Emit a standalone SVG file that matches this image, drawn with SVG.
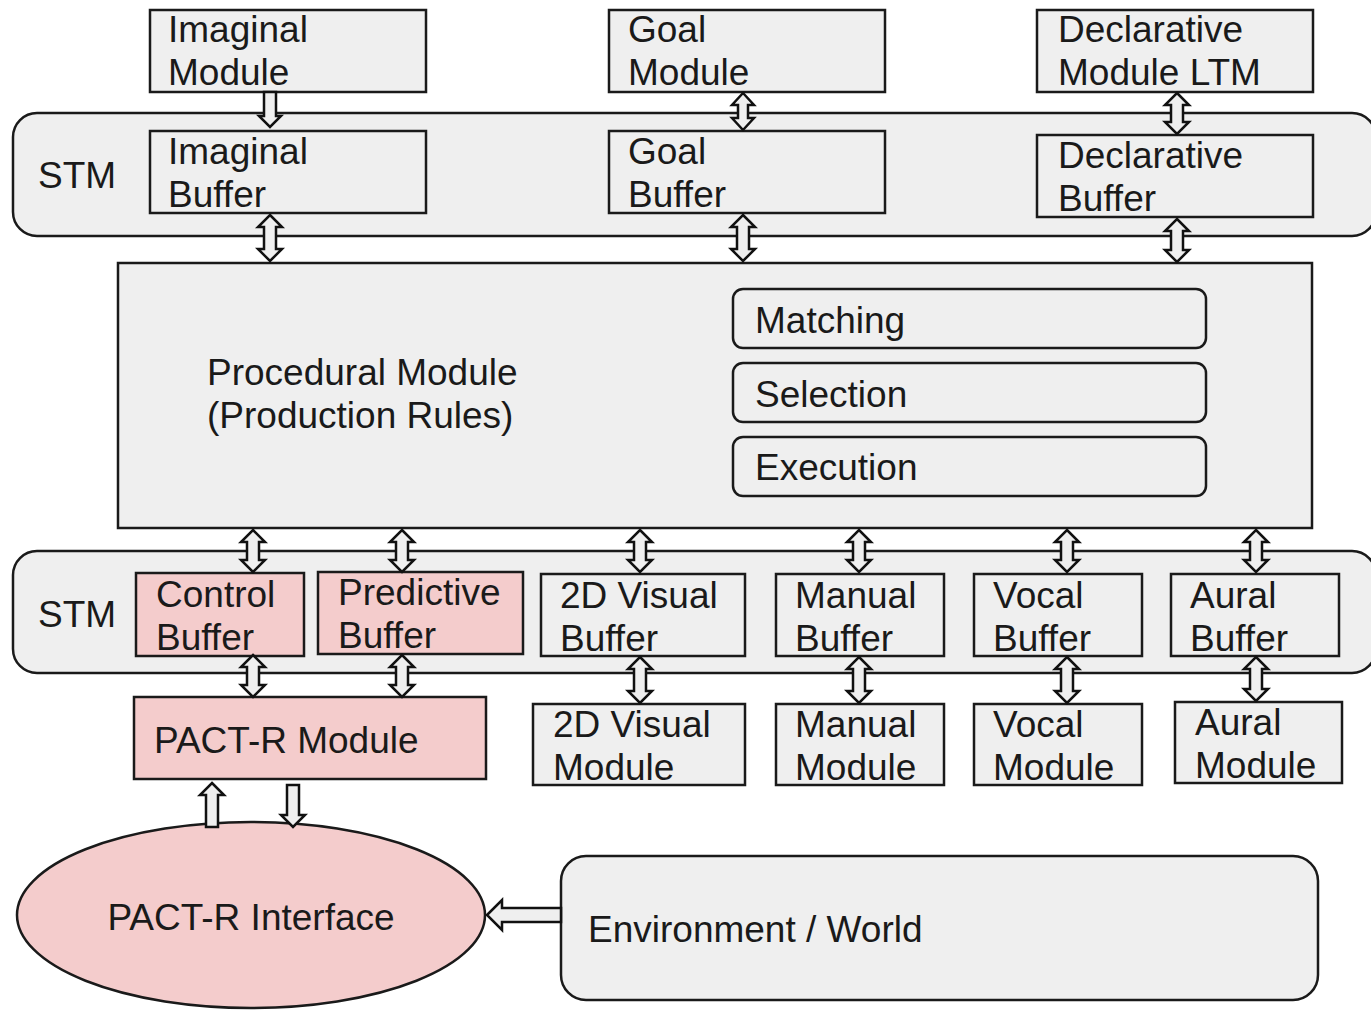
<svg xmlns="http://www.w3.org/2000/svg" width="1371" height="1010" viewBox="0 0 1371 1010">
<style>
.box{fill:#efefef;stroke:#1a1a1a;stroke-width:2.5}
.pink{fill:#f4cccc;stroke:#1a1a1a;stroke-width:2.5}
.arr{fill:#efefef;stroke:#111;stroke-width:2.5;stroke-linejoin:miter}
text{font-family:"Liberation Sans",Arial,sans-serif;font-size:37px;fill:#1a1a1a}
</style>
<rect width="1371" height="1010" fill="#ffffff"/>
<g id="stm-top"><rect class="box" x="13" y="113" width="1363" height="123" rx="24"/><text x="38" y="188">STM</text></g>
<g id="stm-bottom"><rect class="box" x="13" y="551" width="1363" height="122" rx="24"/><text x="38" y="627">STM</text></g>
<g id="imaginal-module"><rect class="box" x="150" y="10" width="276" height="82"/><text x="168" y="42">Imaginal</text><text x="168" y="85">Module</text></g>
<g id="goal-module"><rect class="box" x="609" y="10" width="276" height="82"/><text x="628" y="42">Goal</text><text x="628" y="85">Module</text></g>
<g id="declarative-module"><rect class="box" x="1037" y="10" width="276" height="82"/><text x="1058" y="42">Declarative</text><text x="1058" y="85">Module LTM</text></g>
<g id="imaginal-buffer"><rect class="box" x="150" y="131" width="276" height="82"/><text x="168" y="164">Imaginal</text><text x="168" y="207">Buffer</text></g>
<g id="goal-buffer"><rect class="box" x="609" y="131" width="276" height="82"/><text x="628" y="164">Goal</text><text x="628" y="207">Buffer</text></g>
<g id="declarative-buffer"><rect class="box" x="1037" y="135" width="276" height="82"/><text x="1058" y="168">Declarative</text><text x="1058" y="211">Buffer</text></g>
<g id="procedural-module"><rect class="box" x="118" y="263" width="1194" height="265"/><text x="207" y="385">Procedural Module</text><text x="207" y="428">(Production Rules)</text></g>
<g id="matching"><rect class="box" x="733" y="289" width="473" height="59" rx="10"/><text x="755" y="333">Matching</text></g>
<g id="selection"><rect class="box" x="733" y="363" width="473" height="59" rx="10"/><text x="755" y="407">Selection</text></g>
<g id="execution"><rect class="box" x="733" y="437" width="473" height="59" rx="10"/><text x="755" y="480">Execution</text></g>
<g id="control-buffer"><rect class="pink" x="136" y="573" width="168" height="83"/><text x="156" y="607">Control</text><text x="156" y="650">Buffer</text></g>
<g id="predictive-buffer"><rect class="pink" x="318" y="572" width="205" height="82"/><text x="338" y="605">Predictive</text><text x="338" y="648">Buffer</text></g>
<g id="visual-buffer"><rect class="box" x="541" y="574" width="204" height="82"/><text x="560" y="608">2D Visual</text><text x="560" y="651">Buffer</text></g>
<g id="manual-buffer"><rect class="box" x="776" y="574" width="168" height="82"/><text x="795" y="608">Manual</text><text x="795" y="651">Buffer</text></g>
<g id="vocal-buffer"><rect class="box" x="974" y="574" width="168" height="82"/><text x="993" y="608">Vocal</text><text x="993" y="651">Buffer</text></g>
<g id="aural-buffer"><rect class="box" x="1171" y="574" width="168" height="82"/><text x="1190" y="608">Aural</text><text x="1190" y="651">Buffer</text></g>
<g id="pactr-module"><rect class="pink" x="134" y="697" width="352" height="82"/><text x="154" y="753">PACT-R Module</text></g>
<g id="visual-module"><rect class="box" x="533" y="704" width="212" height="81"/><text x="553" y="737">2D Visual</text><text x="553" y="780">Module</text></g>
<g id="manual-module"><rect class="box" x="776" y="704" width="168" height="81"/><text x="795" y="737">Manual</text><text x="795" y="780">Module</text></g>
<g id="vocal-module"><rect class="box" x="974" y="704" width="168" height="81"/><text x="993" y="737">Vocal</text><text x="993" y="780">Module</text></g>
<g id="aural-module"><rect class="box" x="1175" y="702" width="167" height="81"/><text x="1195" y="735">Aural</text><text x="1195" y="778">Module</text></g>
<g id="pactr-interface"><ellipse class="pink" cx="251" cy="915" rx="234" ry="93"/><text x="251" y="930" text-anchor="middle">PACT-R Interface</text></g>
<g id="environment"><rect class="box" x="561" y="856" width="757" height="144" rx="25"/><text x="588" y="942">Environment / World</text></g>
<g id="connectors">
<path class="arr" d="M264,92 L276,92 L276,116 L281,116 L270,127 L259,116 L264,116 Z"/>
<path class="arr" d="M743,93 L754,105 L748,105 L748,118 L754,118 L743,130 L732,118 L738,118 L738,105 L732,105 Z"/>
<path class="arr" d="M1177,93 L1189,105 L1183,105 L1183,122 L1189,122 L1177,134 L1165,122 L1171,122 L1171,105 L1165,105 Z"/>
<path class="arr" d="M270,215 L282,227 L276,227 L276,249 L282,249 L270,261 L258,249 L264,249 L264,227 L258,227 Z"/>
<path class="arr" d="M743,215 L755,227 L749,227 L749,249 L755,249 L743,261 L731,249 L737,249 L737,227 L731,227 Z"/>
<path class="arr" d="M1177,219 L1189,231 L1183,231 L1183,250 L1189,250 L1177,262 L1165,250 L1171,250 L1171,231 L1165,231 Z"/>
<path class="arr" d="M253,530 L265,542 L259,542 L259,560 L265,560 L253,572 L241,560 L247,560 L247,542 L241,542 Z"/>
<path class="arr" d="M402,530 L414,542 L408,542 L408,560 L414,560 L402,572 L390,560 L396,560 L396,542 L390,542 Z"/>
<path class="arr" d="M640,530 L652,542 L646,542 L646,560 L652,560 L640,572 L628,560 L634,560 L634,542 L628,542 Z"/>
<path class="arr" d="M859,530 L871,542 L865,542 L865,560 L871,560 L859,572 L847,560 L853,560 L853,542 L847,542 Z"/>
<path class="arr" d="M1067,530 L1079,542 L1073,542 L1073,560 L1079,560 L1067,572 L1055,560 L1061,560 L1061,542 L1055,542 Z"/>
<path class="arr" d="M1256,530 L1268,542 L1262,542 L1262,560 L1268,560 L1256,572 L1244,560 L1250,560 L1250,542 L1244,542 Z"/>
<path class="arr" d="M253,655 L265,667 L259,667 L259,685 L265,685 L253,697 L241,685 L247,685 L247,667 L241,667 Z"/>
<path class="arr" d="M402,655 L414,667 L408,667 L408,685 L414,685 L402,697 L390,685 L396,685 L396,667 L390,667 Z"/>
<path class="arr" d="M640,657 L652,669 L646,669 L646,691 L652,691 L640,703 L628,691 L634,691 L634,669 L628,669 Z"/>
<path class="arr" d="M859,657 L871,669 L865,669 L865,691 L871,691 L859,703 L847,691 L853,691 L853,669 L847,669 Z"/>
<path class="arr" d="M1067,657 L1079,669 L1073,669 L1073,691 L1079,691 L1067,703 L1055,691 L1061,691 L1061,669 L1055,669 Z"/>
<path class="arr" d="M1256,657 L1268,669 L1262,669 L1262,689 L1268,689 L1256,701 L1244,689 L1250,689 L1250,669 L1244,669 Z"/>
<path class="arr" d="M212,783 L224,795 L218,795 L218,827 L206,827 L206,795 L200,795 Z"/>
<path class="arr" d="M287,785 L299,785 L299,815 L305,815 L293,827 L281,815 L287,815 Z"/>
<path class="arr" d="M487,915 L502,900 L502,908 L561,908 L561,922 L502,922 L502,930 Z"/>
</g>
</svg>
